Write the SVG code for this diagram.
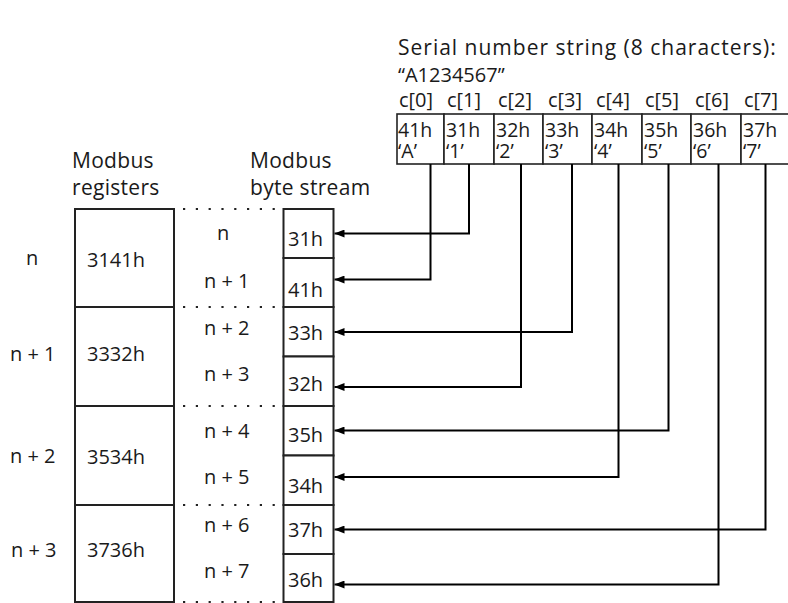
<svg xmlns="http://www.w3.org/2000/svg" width="788" height="603" viewBox="0 0 788 603">
<defs>
<style>
text{font-family:"Open Sans","Liberation Sans",sans-serif;font-size:20px;fill:#1a1a1a}
.hd{font-size:21px;letter-spacing:0.3px}
.tt{font-size:21px;letter-spacing:1px}
.ct{font-size:19.5px}
.box{fill:#fff;stroke:#222;stroke-width:2}
.cell{fill:#fff;stroke:#222;stroke-width:1.6}
.dot{stroke:#222;stroke-width:2.2;stroke-dasharray:2.2 10.6;fill:none}
.con{fill:none;stroke:#000;stroke-width:2}
</style>
<marker id="ah" viewBox="0 0 10 8" refX="10" refY="4" markerWidth="10" markerHeight="8" markerUnits="userSpaceOnUse" orient="auto">
<path d="M0,0 L10,4 L0,8 Z" fill="#000"/>
</marker>
</defs>
<rect width="788" height="603" fill="#fff"/>
<g id="title">
<text class="tt" x="398" y="55">Serial number string (8 characters):</text>
<text x="398" y="82">“A1234567”</text>
</g>
<g id="char-table">
<text x="399" y="107">c[0]</text>
<text x="447" y="107">c[1]</text>
<text x="498" y="107">c[2]</text>
<text x="548" y="107">c[3]</text>
<text x="596" y="107">c[4]</text>
<text x="645" y="107">c[5]</text>
<text x="695" y="107">c[6]</text>
<text x="744" y="107">c[7]</text>
<g id="cell0"><rect class="cell" x="397" y="114" width="47" height="50"/><text class="ct" x="398" y="137">41h</text><text class="ct" x="398" y="158">‘A’</text></g>
<g id="cell1"><rect class="cell" x="444" y="114" width="50" height="50"/><text class="ct" x="446" y="137">31h</text><text class="ct" x="446" y="158">‘1’</text></g>
<g id="cell2"><rect class="cell" x="494" y="114" width="49" height="50"/><text class="ct" x="496" y="137">32h</text><text class="ct" x="496" y="158">‘2’</text></g>
<g id="cell3"><rect class="cell" x="543" y="114" width="49" height="50"/><text class="ct" x="545" y="137">33h</text><text class="ct" x="545" y="158">‘3’</text></g>
<g id="cell4"><rect class="cell" x="592" y="114" width="50" height="50"/><text class="ct" x="594" y="137">34h</text><text class="ct" x="594" y="158">‘4’</text></g>
<g id="cell5"><rect class="cell" x="642" y="114" width="49" height="50"/><text class="ct" x="644" y="137">35h</text><text class="ct" x="644" y="158">‘5’</text></g>
<g id="cell6"><rect class="cell" x="691" y="114" width="50" height="50"/><text class="ct" x="693" y="137">36h</text><text class="ct" x="693" y="158">‘6’</text></g>
<g id="cell7"><rect class="cell" x="741" y="114" width="50" height="50"/><text class="ct" x="743" y="137">37h</text><text class="ct" x="743" y="158">‘7’</text></g>
</g>
<g id="headers">
<text class="hd" x="72" y="168">Modbus</text>
<text class="hd" x="72" y="195">registers</text>
<text class="hd" x="250" y="168">Modbus</text>
<text class="hd" x="250" y="195">byte stream</text>
</g>
<g id="registers">
<g id="reg0"><rect class="box" x="75" y="209" width="99" height="98"/><text x="87" y="267">3141h</text><text x="26" y="265">n</text></g>
<g id="reg1"><rect class="box" x="75" y="307" width="99" height="99"/><text x="87" y="361">3332h</text><text x="10" y="361">n + 1</text></g>
<g id="reg2"><rect class="box" x="75" y="406" width="99" height="99"/><text x="87" y="464">3534h</text><text x="10" y="463">n + 2</text></g>
<g id="reg3"><rect class="box" x="75" y="505" width="99" height="97"/><text x="87" y="557">3736h</text><text x="11" y="557">n + 3</text></g>
</g>
<g id="dots">
<line class="dot" x1="183" y1="209" x2="282" y2="209"/>
<line class="dot" x1="183" y1="307" x2="282" y2="307"/>
<line class="dot" x1="183" y1="406" x2="282" y2="406"/>
<line class="dot" x1="183" y1="505" x2="282" y2="505"/>
<line class="dot" x1="183" y1="602" x2="282" y2="602"/>
</g>
<g id="offsets">
<text x="217" y="240">n</text>
<text x="204" y="288">n + 1</text>
<text x="204" y="335">n + 2</text>
<text x="204" y="381">n + 3</text>
<text x="204" y="438">n + 4</text>
<text x="204" y="484">n + 5</text>
<text x="204" y="532">n + 6</text>
<text x="204" y="578">n + 7</text>
</g>
<g id="bytes">
<g id="b0"><rect class="box" x="283.5" y="209" width="50" height="49"/><text x="288" y="246">31h</text></g>
<g id="b1"><rect class="box" x="283.5" y="258" width="50" height="49"/><text x="288" y="297">41h</text></g>
<g id="b2"><rect class="box" x="283.5" y="307" width="50" height="49.5"/><text x="288" y="340">33h</text></g>
<g id="b3"><rect class="box" x="283.5" y="356.5" width="50" height="49.5"/><text x="288" y="391">32h</text></g>
<g id="b4"><rect class="box" x="283.5" y="406" width="50" height="49.5"/><text x="288" y="442">35h</text></g>
<g id="b5"><rect class="box" x="283.5" y="455.5" width="50" height="49.5"/><text x="288" y="493">34h</text></g>
<g id="b6"><rect class="box" x="283.5" y="505" width="50" height="49"/><text x="288" y="537">37h</text></g>
<g id="b7"><rect class="box" x="283.5" y="554" width="50" height="48"/><text x="288" y="587">36h</text></g>
</g>
<g id="connectors">
<polyline class="con" points="469,164 469,233.5 334.5,233.5" marker-end="url(#ah)"/>
<polyline class="con" points="430.5,164 430.5,279.5 334.5,279.5" marker-end="url(#ah)"/>
<polyline class="con" points="572,164 572,332 334.5,332" marker-end="url(#ah)"/>
<polyline class="con" points="521,164 521,387 334.5,387" marker-end="url(#ah)"/>
<polyline class="con" points="668.5,164 668.5,430.5 334.5,430.5" marker-end="url(#ah)"/>
<polyline class="con" points="618.5,164 618.5,477 334.5,477" marker-end="url(#ah)"/>
<polyline class="con" points="765.5,164 765.5,529.5 334.5,529.5" marker-end="url(#ah)"/>
<polyline class="con" points="718.5,164 718.5,584.5 334.5,584.5" marker-end="url(#ah)"/>
</g>
</svg>
